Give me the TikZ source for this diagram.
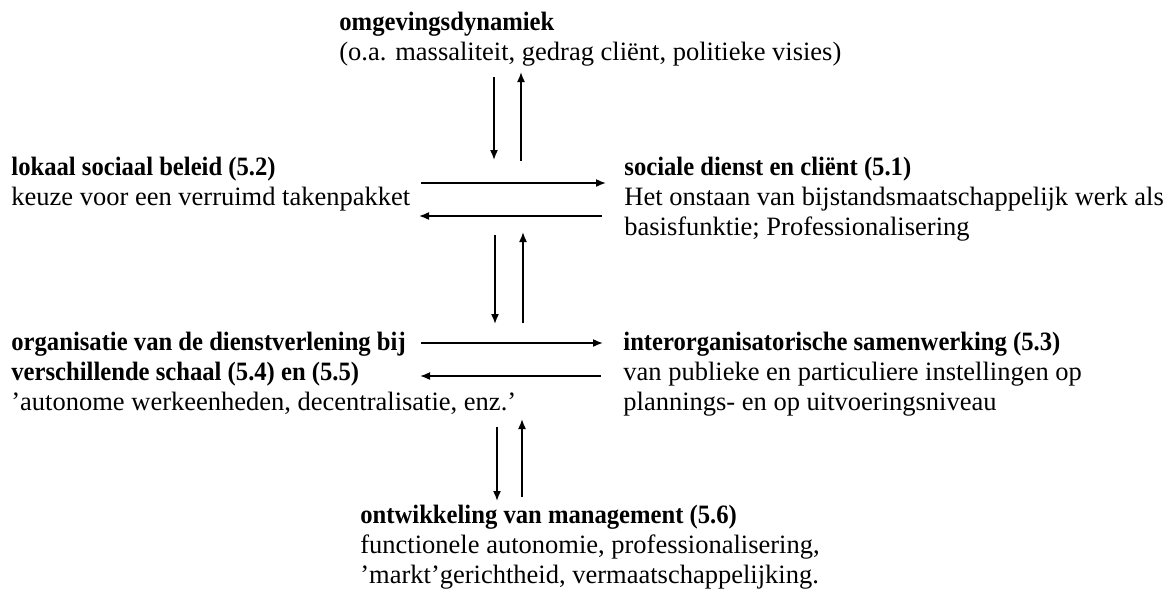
\documentclass[tikz,border=0pt]{standalone}
\usepackage{fontspec}
\setmainfont{Liberation Serif}[BoldFeatures={FakeStretch=0.93}]
\usetikzlibrary{arrows.meta}
\tikzset{
  txt/.style={anchor=base west, inner sep=0pt, align=left, font=\fontsize{13.25}{15}\selectfont},
  flow/.style={line width=0.8pt, -{Latex[length=5pt,width=4pt]}}
}
\begin{document}
\begin{tikzpicture}[x=0.5pt,y=-0.5pt]
\useasboundingbox (0,0) rectangle (1170,589);
% text blocks (anchor = baseline of last line)
\node[txt] (env) at (339,60) {\textbf{omgevingsdynamiek}\\(o.a. massaliteit, gedrag cliënt, politieke visies)};
\node[txt] (lok) at (11,205) {\textbf{lokaal sociaal beleid (5.2)}\\keuze voor een verruimd takenpakket};
\node[txt] (soc) at (624,235) {\textbf{sociale dienst en cliënt (5.1)}\\Het onstaan van bijstandsmaatschappelijk werk als\\basisfunktie; Professionalisering};
\node[txt] (org) at (11,410) {\textbf{organisatie van de dienstverlening bij}\\\textbf{verschillende schaal (5.4) en (5.5)}\\'autonome werkeenheden, decentralisatie, enz.'};
\node[txt] (int) at (623,410) {\textbf{interorganisatorische samenwerking (5.3)}\\van publieke en particuliere instellingen op\\plannings- en op uitvoeringsniveau};
\node[txt] (man) at (360,583) {\textbf{ontwikkeling van management (5.6)}\\functionele autonomie, professionalisering,\\'markt'gerichtheid, vermaatschappelijking.};
% arrow end points
\coordinate (t1a) at (494,77);  \coordinate (t1b) at (494,160);
\coordinate (t2a) at (521,161); \coordinate (t2b) at (521,72);
\coordinate (h1a) at (421,183); \coordinate (h1b) at (606,183);
\coordinate (h2a) at (602,216); \coordinate (h2b) at (419,216);
\coordinate (m1a) at (495,235); \coordinate (m1b) at (495,324);
\coordinate (m2a) at (523,323); \coordinate (m2b) at (523,232);
\coordinate (l1a) at (421,343); \coordinate (l1b) at (603,343);
\coordinate (l2a) at (601,376); \coordinate (l2b) at (420,376);
\coordinate (b1a) at (497,427); \coordinate (b1b) at (497,501);
\coordinate (b2a) at (522,497); \coordinate (b2b) at (522,419);
% arrows
\draw[flow] (t1a) -- (t1b);
\draw[flow] (t2a) -- (t2b);
\draw[flow] (h1a) -- (h1b);
\draw[flow] (h2a) -- (h2b);
\draw[flow] (m1a) -- (m1b);
\draw[flow] (m2a) -- (m2b);
\draw[flow] (l1a) -- (l1b);
\draw[flow] (l2a) -- (l2b);
\draw[flow] (b1a) -- (b1b);
\draw[flow] (b2a) -- (b2b);
\end{tikzpicture}
\end{document}
